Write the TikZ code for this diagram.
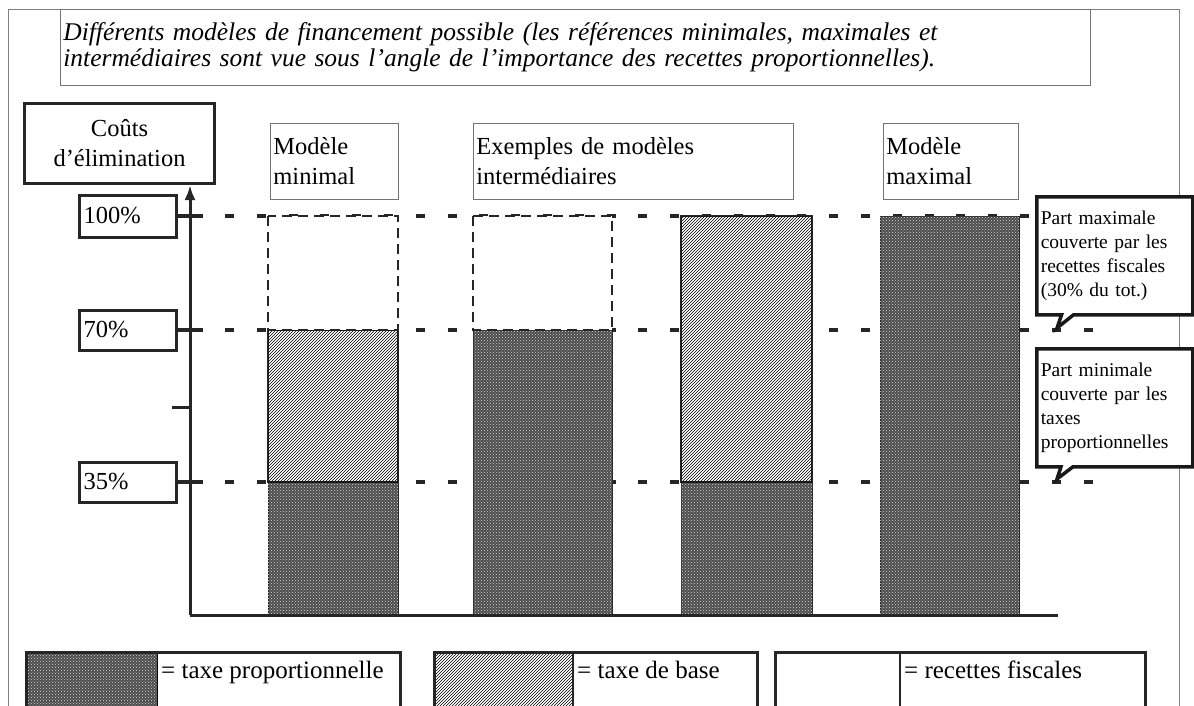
\documentclass[tikz,border=0pt]{standalone}
\usepackage{fontspec}
\setmainfont{Liberation Serif}
\usetikzlibrary{positioning, patterns, shapes.callouts, arrows.meta}

\begin{document}
\begin{tikzpicture}[
        x=1pt, y=-1pt,
        thinbox/.style={rectangle, draw=black!55, line width=0.8pt, fill=white, align=left, inner sep=3pt, font=\fontsize{24.5}{30}\selectfont},
        thickbox/.style={rectangle, draw=black!85, line width=3pt, fill=white, inner sep=4pt, font=\fontsize{24.5}{30}\selectfont},
        stub/.style={line width=4pt, black!85},
        level/.style={line width=4pt, black!85, dash pattern=on 9pt off 22.8pt},
        prop/.style={fill=black!70, postaction={pattern=crosshatch dots, pattern color=black!15}},
        base/.style={fill=white, postaction={pattern=north east lines}},
        fisc/.style={fill=white, draw=black!85, line width=1.5pt, dash pattern=on 10pt off 6pt},
        legtext/.style={inner sep=4pt, font=\fontsize{25}{30}\selectfont},
        note/.style={rectangle callout, draw=black!90, line width=3.5pt, fill=white, align=left, inner sep=4pt, font=\fontsize{19.5}{24}\selectfont, callout pointer width=12pt}
    ]
    \useasboundingbox (0,0) rectangle (1194,705);

    % outer frame
    \draw[black!50, line width=0.8pt] (8,712) -- (8,9) -- (1179,9) -- (1179,712);

    % title
    \node[thinbox, anchor=north west, text width=1024pt, minimum height=76pt, font=\fontsize{25.5}{26}\selectfont\itshape] (title) at (60,9)
        {Différents modèles de financement possible (les références minimales, maximales et\\
         intermédiaires sont vue sous l’angle de l’importance des recettes proportionnelles).};

    % axis
    \node[thickbox, align=center, minimum width=190pt, minimum height=80pt, anchor=north west] (cout) at (23,102) {Coûts\\d’élimination};
    \coordinate (origin) at (190,615);
    \coordinate (xend) at (1058,615);
    \coordinate (tick) at (172,407);

    \node[thickbox, anchor=west, text width=89pt, minimum height=42pt] (p100) at (78,216) {100\%};
    \node[thickbox, anchor=west, text width=89pt, minimum height=40pt] (p70) at (78,330) {70\%};
    \node[thickbox, anchor=west, text width=89pt, minimum height=40pt] (p35) at (78,482) {35\%};

    \coordinate (e100) at (1100,216);
    \coordinate (e70) at (1100,330);
    \coordinate (e35) at (1100,482);

    % levels
    \draw[stub] (p100.east) -- ++(25,0);
    \draw[stub] (p70.east) -- ++(25,0);
    \draw[stub] (p35.east) -- ++(25,0);
    \draw[level] (p100.east) ++(47,0) -- (e100);
    \draw[level] (p70.east) ++(47,0) -- (e70);
    \draw[level] (p35.east) ++(47,0) -- (e35);

    % Modèle minimal
    \draw[prop, draw=black!85] (268,482) rectangle (398,615);
    \draw[base, draw=black!85, line width=1.2pt] (268,330) rectangle (398,482);
    \draw[fisc] (268,216) rectangle (398,330);

    % modèles intermédiaires
    \draw[prop, draw=black!85] (473,330) rectangle (612,615);
    \draw[fisc] (473,216) rectangle (612,330);
    \draw[prop, draw=black!85] (681,482) rectangle (812,615);
    \draw[base, draw=black!85, line width=1.2pt] (681,216) rectangle (812,482);

    % Modèle maximal
    \draw[prop, draw=black!85] (880,216) rectangle (1019,615);

    \draw[line width=3pt, black!85] (tick) -- (tick -| origin);
    \draw[line width=3pt, black!85] (origin) -- (xend);
    \draw[line width=3pt, black!85, -{Latex[length=15pt, width=11pt]}] (origin) -- (origin |- cout.south);

    % model titles
    \node[thinbox, anchor=north west, text width=122pt, minimum height=76pt] (mmin) at (270,123) {Modèle\\minimal};
    \node[thinbox, anchor=north west, text width=314pt, minimum height=76pt] (minter) at (473,123) {Exemples de modèles\\intermédiaires};
    \node[thinbox, anchor=north west, text width=129pt, minimum height=76pt] (mmax) at (883,123) {Modèle\\maximal};

    % notes
    \node[note, anchor=north west, text width=148pt, minimum height=118pt, callout absolute pointer={(1057,328)}] (nmax) at (1035,195)
        {Part maximale\\couverte par les\\recettes fiscales\\(30\% du tot.)};
    \node[note, anchor=north west, text width=148pt, minimum height=118pt, callout absolute pointer={(1057,479)}] (nmin) at (1035,347)
        {Part minimale\\couverte par les\\taxes\\proportionnelles};

    % legend
    \draw[prop] (26,652) rectangle (157,712);
    \node[legtext, anchor=north west] (lprop) at (157,657) {= taxe proportionnelle};
    \draw[black!85, line width=3pt] (26,712) -- (26,652) -- (400,652) -- (400,712);

    \draw[base] (434,652) rectangle (573,712);
    \node[legtext, anchor=north west] (lbase) at (573,657) {= taxe de base};
    \draw[black!85, line width=3pt] (434,712) -- (434,652) -- (757,652) -- (757,712);
    \draw[black!85, line width=1.2pt] (573,652) -- (573,712);

    \draw[black!85, line width=1.2pt] (900,652) -- (900,712);
    \node[legtext, anchor=north west] (lfisc) at (900,657) {= recettes fiscales};
    \draw[black!85, line width=3pt] (775,712) -- (775,652) -- (1145,652) -- (1145,712);
\end{tikzpicture}
\end{document}
